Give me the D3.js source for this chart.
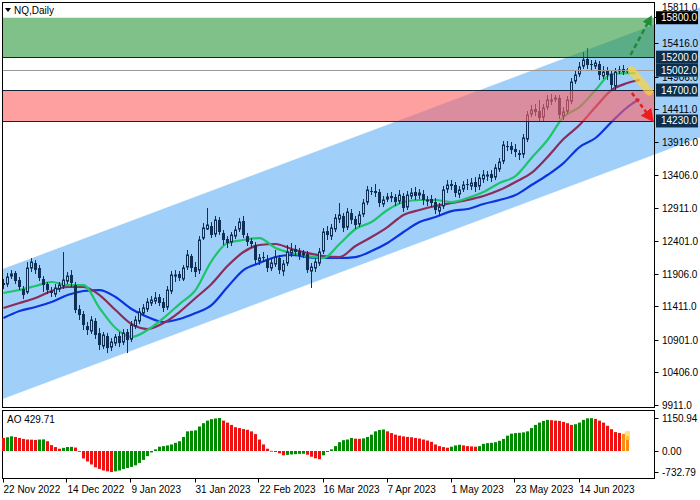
<!DOCTYPE html>
<html><head><meta charset="utf-8">
<script src="https://cdn.jsdelivr.net/npm/d3@7/dist/d3.min.js"></script>
<style>
html,body{margin:0;padding:0;background:#fff;}
svg{display:block;font-family:"Liberation Sans",Arial,sans-serif;}
</style></head><body>
<svg id="chart" width="700" height="500"></svg>
<script>
// ---------------- DATA ----------------
const open = [11766,11751,11872,11918,11811,11675,11629,11994,12070,11994,
11827,11751,11644,11598,11675,11720,11796,11888,11735,11370,
11294,11112,11036,11188,11005,10808,10960,10792,10853,10960,
10868,11021,10914,11112,11188,11309,11370,11462,11492,11553,
11477,11401,11644,11872,11903,11827,12009,12176,12009,11963,
12450,12587,12632,12511,12724,12526,12435,12389,12480,12587,
12708,12480,12404,12344,12100,12161,12131,11994,12055,12146,
11948,12070,12222,12283,12252,12192,12207,11948,11994,12070,
12252,12556,12480,12587,12739,12785,12617,12830,12739,12663,
12815,12997,13165,13165,13150,12967,13043,13089,13074,13013,
13089,12921,13089,13150,13104,13119,13013,13043,12997,12860,
12937,13195,13271,13256,13119,13195,13271,13241,13302,13241,
13347,13393,13423,13378,13499,13621,13849,13849,13803,13742,
13727,13955,14336,14412,14381,14290,14442,14533,14564,14579,
14305,14381,14533,14837,14944,15065,15172,15096,15065,15096,
14913,14989,14944,14761,14989,15020,14989];
const high = [11827,11918,11963,11948,11857,11720,12085,12146,12116,12040,
11872,11781,11705,11751,11781,12237,11933,11963,11781,11431,
11340,11173,11264,11233,11081,11021,11005,10929,10990,11021,
11066,11066,11188,11264,11386,11446,11538,11568,11629,11598,
11538,11720,11948,11963,11948,12040,12268,12207,12085,12480,
12678,12906,12693,12785,12769,12572,12480,12541,12632,12754,
12785,12526,12450,12389,12207,12237,12192,12146,12268,12192,
12116,12344,12374,12344,12298,12268,12252,12070,12146,12298,
12602,12632,12663,12815,12982,12830,12906,12891,12785,12860,
13043,13241,13226,13271,13195,13089,13134,13150,13119,13180,
13134,13165,13210,13226,13195,13180,13089,13104,13058,12982,
13241,13332,13332,13302,13241,13317,13347,13363,13378,13423,
13484,13469,13484,13575,13667,13925,13925,13910,13879,13788,
14031,14381,14473,14488,14548,14488,14624,14640,14624,14624,
14442,14609,14883,15005,15126,15278,15339,15157,15157,15141,
15065,15050,14989,15035,15065,15081,15035];
const low = [11675,11705,11827,11751,11659,11522,11598,11933,11903,11796,
11629,11598,11553,11553,11629,11675,11751,11705,11309,11203,
11051,10975,10990,10914,10747,10762,10701,10732,10808,10792,
10823,10701,10868,11066,11142,11264,11325,11416,11446,11416,
11325,11355,11598,11781,11796,11796,11963,11933,11857,11903,
12420,12572,12450,12465,12496,12344,12298,12328,12435,12541,
12450,12328,12298,12055,12040,12085,11933,11948,12009,11903,
11872,12024,12161,12176,12116,12146,11918,11690,11933,12024,
12207,12420,12420,12541,12678,12541,12572,12663,12587,12617,
12769,12952,13104,13074,12921,12921,12997,12997,12937,12967,
12845,12876,13043,13028,13043,12952,12937,12921,12815,12785,
12891,13134,13180,13074,13058,13150,13180,13180,13150,13180,
13287,13317,13302,13332,13454,13575,13773,13727,13682,13636,
13667,13910,14290,14305,14214,14229,14396,14473,14518,14260,
14244,14336,14488,14792,14898,15020,15020,15005,15020,14853,
14868,14853,14716,14700,14944,14929,14959];
const close = [11735,11857,11903,11796,11705,11583,11994,12085,11963,11842,
11735,11659,11614,11690,11735,11811,11872,11766,11355,11279,
11127,11051,11203,10975,10823,10975,10777,10868,10945,10853,
11005,10899,11127,11203,11325,11386,11477,11507,11538,11462,
11386,11659,11888,11888,11842,11994,12192,11994,11933,12420,
12602,12648,12496,12724,12541,12420,12374,12496,12572,12693,
12496,12389,12359,12116,12146,12146,11994,12070,12161,11963,
12055,12237,12268,12237,12176,12222,11963,12009,12085,12237,
12541,12496,12602,12754,12800,12602,12845,12724,12648,12800,
12982,13180,13150,13134,12982,13028,13074,13058,12997,13104,
12906,13104,13134,13089,13134,13028,13028,12982,12876,12921,
13180,13256,13241,13134,13180,13256,13256,13287,13226,13363,
13408,13408,13363,13515,13606,13864,13834,13788,13758,13712,
13971,14320,14396,14366,14275,14427,14548,14548,14579,14320,
14366,14548,14822,14929,15050,15157,15081,15081,15111,14929,
14974,14929,14777,14974,15005,14974,15002];

// Awesome Oscillator histogram
const ao = [455,480,513,490,455,420,400,395,385,400,
405,340,205,137,80,110,140,145,120,-20,
-260,-365,-470,-570,-625,-680,-710,-732.79,-710,-680,
-630,-595,-555,-500,-415,-310,-180,-50,57,150,
170,195,228,285,340,490,685,705,720,855,
970,1060,1110,1135,1150.94,1060,990,910,830,800,
765,740,685,590,400,228,80,5,-35,-80,
-150,-135,-120,-110,-100,-95,-130,-200,-255,-285,
-150,-35,57,170,308,377,400,455,430,425,
440,490,570,685,735,750,685,625,570,535,
510,490,480,455,435,400,365,320,228,170,
137,115,150,195,217,195,170,160,150,170,
250,275,285,308,355,420,535,605,625,635,
650,685,800,910,990,1050,1085,1075,1060,1050,
1015,970,910,935,990,1085,1140,1145,1120,1060,
990,880,760,660,630,600,520];

// Moving averages (Alligator-style), sampled every 4 bars
const lipsIdx  = [0,4,8,12,16,20,24,28,32,36,40,44,48,52,56,60,64,68,72,76,80,84,88,92,96,100,104,108,112,116,120,124,128,132,136,140,144,148,152,156,158];
const lipsVals = [11614,11659,11720,11781,11735,11735,11386,11081,10945,11051,11233,11446,11659,12100,12374,12420,12450,12298,12222,12176,12146,12359,12587,12693,12876,12997,13028,13028,12997,13058,13150,13287,13393,13667,13940,14290,14442,14700,14944,14959,14959];
const teethIdx  = [0,4,8,12,16,20,24,28,32,36,40,44,48,52,56,60,64,68,72,76,80,84,88,92,96,100,104,108,112,116,120,124,128,132,136,140,144,148,152,156,159];
const teethVals = [11386,11462,11538,11644,11705,11705,11583,11355,11142,11066,11157,11325,11538,11751,12024,12237,12344,12359,12283,12222,12176,12161,12328,12465,12617,12800,12876,12937,12982,13028,13089,13180,13302,13439,13682,13955,14168,14442,14700,14807,14853];
const jawIdx  = teethIdx;
const jawVals = [11233,11340,11401,11477,11583,11644,11659,11553,11370,11249,11173,11218,11309,11431,11705,11963,12070,12161,12192,12161,12146,12146,12161,12252,12374,12541,12693,12769,12860,12891,12967,13028,13104,13256,13408,13590,13834,13971,14214,14442,14564];

// Regression channel (bar index, upper price, lower price)
const channelBars  = [-0.875, 174.125];
const channelUpper = [11963, 15955];
const channelLower = [9987, 13978];

// Zones and levels
const greenZone = [15200, 15800];
const redZone   = [14230, 14700];
const currentPrice = 15002;
const levelValues = [15800, 15200, 15002, 14700, 14230];
const levelLabels = ["15800.0","15200.0","15002.0","14700.0","14230.0"];
const levelColors = ["#000000","#0c2f4e","#0c2f4e","#0c2f4e","#0c2f4e"];

// Forecast arrows (bar index, price)
const arrowGreenBars = [156.75, 161.5], arrowGreenPrices = [15233, 15770];
const arrowRedBars   = [157.1, 161.6],  arrowRedPrices   = [14655, 14290];
const arrowYellowBars= [157.0, 161.4],  arrowYellowPrices= [15000, 14680];

// Axes
const priceTicks = [9911,10406,10901,11411,11906,12401,12911,13406,13916,14411,14906,15416,15811];
const aoTicks = [1150.94, 0, -732.79];
const aoTickLabels = ["1150.94","0.00","-732.79"];
const dateTickIdx = [0,16,32,48,64,80,96,112,128,144];
const dateTickLabels = ["22 Nov 2022","14 Dec 2022","9 Jan 2023","31 Jan 2023","22 Feb 2023","16 Mar 2023","7 Apr 2023","1 May 2023","23 May 2023","14 Jun 2023"];
const aoLabel = "AO 429.71";
const title = "NQ,Daily";

// ---------------- LAYOUT ----------------
const W = 700, H = 500;
const L = 2.5, R = 654.5, T = 2.5, B = 407.5, aoT = 410.5, aoB = 478.5;
const x  = d3.scaleLinear().domain([0, 156]).range([3.5, 627.5]);
const y  = d3.scaleLinear().domain([9911, 15811]).range([405, 17]);
const ya = d3.scaleLinear().domain([-732.79, 1150.94]).range([472, 418]);

const candleColor = "#0f2f55";
const channelColor = "#a0cffa";
const svg = d3.select("#chart");
svg.append("rect").attr("width", W).attr("height", H).attr("fill", "#fff");

const defs = svg.append("defs");
defs.append("clipPath").attr("id", "mainClip").append("rect")
  .attr("x", L).attr("y", T).attr("width", W - L).attr("height", B - T);
defs.append("clipPath").attr("id", "plotClip").append("rect")
  .attr("x", L).attr("y", T).attr("width", R - L).attr("height", B - T);
function marker(id, color, size) {
  defs.append("marker").attr("id", id).attr("viewBox", "0 0 10 10")
    .attr("refX", 5).attr("refY", 5).attr("markerWidth", size).attr("markerHeight", size)
    .attr("orient", "auto").attr("markerUnits", "userSpaceOnUse")
    .append("path").attr("d", "M0,0 L10,5 L0,10 Z").attr("fill", color);
}
marker("mGreen", "#1f8a3a", 10);
marker("mRed", "#ee1c1c", 13);

// channel (extends into the axis column)
const chG = svg.append("g").attr("clip-path", "url(#mainClip)");
chG.append("path")
  .attr("d", d3.line()([
    [x(channelBars[0]), y(channelUpper[0])],
    [x(channelBars[1]), y(channelUpper[1])],
    [x(channelBars[1]), y(channelLower[1])],
    [x(channelBars[0]), y(channelLower[0])]
  ]) + "Z")
  .attr("fill", channelColor);

const plot = svg.append("g").attr("clip-path", "url(#plotClip)");

// moving averages
function maLine(idxs, vals, color) {
  plot.append("path")
    .datum(idxs.map((d, k) => [d, vals[k]]))
    .attr("d", d3.line().x(d => x(d[0])).y(d => y(d[1])).curve(d3.curveMonotoneX))
    .attr("fill", "none").attr("stroke", color).attr("stroke-width", 2.2);
}
maLine(jawIdx, jawVals, "#0b33e0");
maLine(teethIdx, teethVals, "#8a2d5a");
maLine(lipsIdx, lipsVals, "#1cc46a");

// candles
const idx = d3.range(close.length);
const cg = plot.append("g");
cg.selectAll("line").data(idx).join("line")
  .attr("x1", i => x(i)).attr("x2", i => x(i))
  .attr("y1", i => y(high[i])).attr("y2", i => y(low[i]))
  .attr("stroke", candleColor).attr("stroke-width", 1);
cg.selectAll("rect").data(idx).join("rect")
  .attr("x", i => close[i] >= open[i] ? x(i) - 1 : x(i) - 1.5)
  .attr("width", i => close[i] >= open[i] ? 2 : 3)
  .attr("y", i => y(Math.max(open[i], close[i])))
  .attr("height", i => Math.max(1, y(Math.min(open[i], close[i])) - y(Math.max(open[i], close[i]))))
  .attr("fill", i => close[i] >= open[i] ? channelColor : candleColor)
  .attr("stroke", i => close[i] >= open[i] ? candleColor : "none")
  .attr("stroke-width", 1);

// zones (semi transparent, over candles)
plot.append("rect").attr("x", L).attr("width", R - L)
  .attr("y", y(greenZone[1])).attr("height", y(greenZone[0]) - y(greenZone[1]))
  .attr("fill", "#2b963a").attr("fill-opacity", 0.6);
plot.append("rect").attr("x", L).attr("width", R - L)
  .attr("y", y(redZone[1])).attr("height", y(redZone[0]) - y(redZone[1]))
  .attr("fill", "#ff6161").attr("fill-opacity", 0.6);
[greenZone[0], redZone[0], redZone[1]].forEach(v => {
  plot.append("line").attr("x1", L).attr("x2", R)
    .attr("y1", Math.round(y(v)) + 0.5).attr("y2", Math.round(y(v)) + 0.5)
    .attr("stroke", "#13243a").attr("stroke-width", 1);
});
plot.append("line").attr("x1", L).attr("x2", R)
  .attr("y1", Math.round(y(currentPrice)) + 0.5).attr("y2", Math.round(y(currentPrice)) + 0.5)
  .attr("stroke", "#9a9a9a").attr("stroke-width", 1);

// forecast arrows
svg.append("path")
  .attr("d", d3.line()(arrowYellowBars.map((b, k) => [x(b), y(arrowYellowPrices[k])])))
  .attr("stroke", "#ffd23c").attr("stroke-opacity", 0.7).attr("stroke-width", 8)
  .attr("stroke-linecap", "round").attr("fill", "none");
svg.append("path")
  .attr("d", d3.line()(arrowGreenBars.map((b, k) => [x(b), y(arrowGreenPrices[k])])))
  .attr("stroke", "#1f8a3a").attr("stroke-width", 2.5).attr("stroke-dasharray", "5,3")
  .attr("fill", "none").attr("marker-end", "url(#mGreen)");
svg.append("path")
  .attr("d", d3.line()(arrowRedBars.map((b, k) => [x(b), y(arrowRedPrices[k])])))
  .attr("stroke", "#ee1c1c").attr("stroke-width", 2.5).attr("stroke-dasharray", "4,3")
  .attr("fill", "none").attr("marker-end", "url(#mRed)");

// frames
svg.append("rect").attr("x", L).attr("y", T).attr("width", R - L).attr("height", B - T)
  .attr("fill", "none").attr("stroke", "#000");
svg.append("rect").attr("x", L).attr("y", aoT).attr("width", R - L).attr("height", aoB - aoT)
  .attr("fill", "none").attr("stroke", "#000");

// title
svg.append("path").attr("d", "M5,8 L11,8 L8,12 Z").attr("fill", "#000");
svg.append("text").attr("x", 14).attr("y", 14).attr("font-size", 10).attr("fill", "#000").text(title);

// price axis; labels hidden under the level boxes are clipped to their visible strip
const pa = svg.append("g");
const boxTops = levelValues.map(v => y(v) - 6.5);
priceTicks.forEach((v, k) => {
  const yy = Math.round(y(v)) + 0.5;
  pa.append("line").attr("x1", R).attr("x2", R + 4).attr("y1", yy).attr("y2", yy).attr("stroke", "#000");
  const t = pa.append("text").attr("x", 662).attr("y", k === priceTicks.length - 1 ? yy - 10 : yy)
    .attr("dy", "0.35em").attr("font-size", 10).attr("fill", "#000").text(v.toFixed(1));
  // find boxes overlapping this label
  const over = boxTops.filter(bt => bt < yy + 6 && bt + 13 > yy - 6);
  if (over.length && k !== priceTicks.length - 1) {
    const above = boxTops.filter(bt => bt <= yy).map(bt => bt + 13);
    const below = boxTops.filter(bt => bt > yy);
    const top = above.length ? d3.max(above) : yy - 6;
    const bot = below.length ? d3.min(below) : yy + 6;
    const cid = "tclip" + k;
    defs.append("clipPath").attr("id", cid).append("rect")
      .attr("x", 656).attr("y", top).attr("width", 44).attr("height", Math.max(0, bot - top));
    t.attr("clip-path", `url(#${cid})`);
  }
});
levelValues.forEach((v, k) => {
  const yy = y(v);
  pa.append("rect").attr("x", R + 1.5).attr("y", yy - 6.5).attr("width", 42).attr("height", 13)
    .attr("fill", levelColors[k]);
  pa.append("text").attr("x", 661).attr("y", yy).attr("dy", "0.35em")
    .attr("font-size", 10).attr("fill", "#fff").text(levelLabels[k]);
});

// AO histogram
const ag = svg.append("g");
ag.selectAll("rect").data(idx).join("rect")
  .attr("x", i => x(i) - 1.5).attr("width", 3)
  .attr("y", i => Math.min(ya(ao[i]), ya(0)))
  .attr("height", i => Math.max(0.8, Math.abs(ya(ao[i]) - ya(0))))
  .attr("fill", i => i >= ao.length - 2 ? "#ff8a10" : (i > 0 && ao[i] > ao[i - 1]) ? "#008a00" : "#ee1111");
const lastI = ao.length - 1;
ag.append("rect").attr("x", x(lastI) - 2.5).attr("width", 5)
  .attr("y", ya(ao[lastI]) - 5).attr("height", 9)
  .attr("fill", "#ffd75a").attr("fill-opacity", 0.75);
svg.append("text").attr("x", 7).attr("y", 419).attr("dy", "0.35em").attr("font-size", 10).text(aoLabel);
aoTicks.forEach((v, k) => {
  const yy = Math.round(ya(v)) + 0.5;
  svg.append("line").attr("x1", R).attr("x2", R + 4).attr("y1", yy).attr("y2", yy).attr("stroke", "#000");
  svg.append("text").attr("x", 662).attr("y", yy).attr("dy", "0.35em").attr("font-size", 10).text(aoTickLabels[k]);
});

// date axis
dateTickIdx.forEach((b, k) => {
  const xx = Math.round(x(b)) - 0.5;
  svg.append("line").attr("x1", xx).attr("x2", xx).attr("y1", aoB).attr("y2", aoB + 4).attr("stroke", "#000");
  svg.append("text").attr("x", x(b)).attr("y", 493).attr("font-size", 10).text(dateTickLabels[k]);
});
</script></body></html>
